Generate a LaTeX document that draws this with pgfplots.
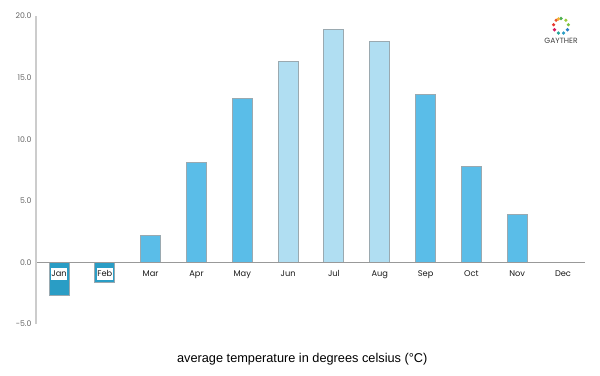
\documentclass[border=0pt]{standalone}
\usepackage{pgfplots}
\pgfplotsset{compat=1.18}
\usepackage{fontspec}
\setmainfont{Poppins}
\newfontfamily\arialf{Liberation Sans}
\definecolor{darkb}{HTML}{2A9DC5}
\definecolor{midb}{HTML}{5ABDE8}
\definecolor{lightb}{HTML}{B0DEF2}
\definecolor{edgeg}{HTML}{9AA9B0}
\begin{document}
\begin{tikzpicture}[x=1bp,y=1bp]
\path (0,0) rectangle (600,375);
\begin{axis}[
  at={(36bp,51bp)},
  anchor=south west,
  scale only axis, width=549bp, height=308bp,
  xmin=-0.502, xmax=11.48, ymin=-5, ymax=20,
  axis on top,
  axis y line*=left, axis x line=middle,
  axis line style={-},
  y axis line style={line width=1.4pt, draw=black!20},
  x axis line style={line width=0.7pt, draw=black!40},
  ytick={-5,0,5,10,15,20},
  xtick={0,1,2,3,4,5,6,7,8,9,10,11},
  xticklabels={Jan,Feb,Mar,Apr,May,Jun,Jul,Aug,Sep,Oct,Nov,Dec},
  major tick length=0pt,
  yticklabel style={font=\fontsize{7.8}{9}\selectfont, text=black!60, xshift=-1pt, /pgf/number format/fixed, /pgf/number format/fixed zerofill, /pgf/number format/precision=1, /pgf/number format/assume math mode=true},
  xticklabel style={font=\fontsize{8.3}{9}\selectfont, text=black!90, fill=white, inner xsep=0.8pt, inner ysep=1pt, text height=7bp, text depth=2.5bp, yshift=-5.5pt},
  ybar, bar width=20bp,
  every axis plot/.append style={bar shift=0pt, draw=edgeg, line width=0.9pt},
  xlabel={\arialf average temperature in degrees celsius (°C)},
  xlabel style={font=\fontsize{12.8}{14}\selectfont, text=black, at={(axis description cs:0.485,-0.115)}, anchor=center},
  clip=false,
]
\addplot[fill=darkb, draw=edgeg] coordinates {(0,-2.7) (1,-1.6)};
\addplot[fill=midb, draw=edgeg] coordinates {(2,2.2) (3,8.1) (4,13.3) (8,13.6) (9,7.8) (10,3.9)};
\addplot[fill=lightb, draw=edgeg] coordinates {(5,16.3) (6,18.9) (7,17.9)};
\end{axis}
% logo
\foreach \a/\c in {90/4CAF50,50/9CCB3B,10/7BC142,-30/2A7FC5,-70/2A9DC5,-110/26A69A,-150/D81B60,170/E8352D,130/E8552D,110/F2B233}{
  \definecolor{logoc}{HTML}{\c}
  \fill[logoc] ({561+7.5*cos(\a)},{375-26+7.5*sin(\a)}) circle (1.8bp);
}
\node[font=\fontsize{7.6}{8}\selectfont, text=black!75, inner sep=0pt] at (561,375-41) {GAYTHER};
\end{tikzpicture}
\end{document}
